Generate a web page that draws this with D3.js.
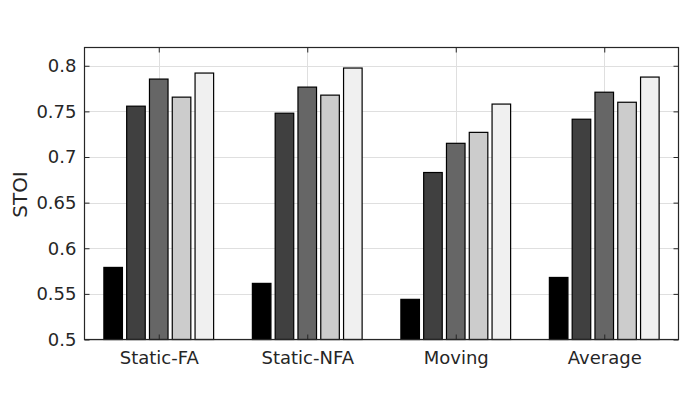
<!DOCTYPE html>
<html><head><meta charset="utf-8">
<script src="https://cdn.jsdelivr.net/npm/d3@7"></script>
<style>body{margin:0;background:#fff}svg{display:block}text{font-family:"DejaVu Sans",sans-serif;fill:#262626}</style>
</head><body>
<svg id="c" width="700" height="400"></svg>
<script>
const categories = ["Static-FA", "Static-NFA", "Moving", "Average"];
const series1 = [0.579, 0.5615, 0.544, 0.568];
const series2 = [0.7557, 0.748, 0.683, 0.7414];
const series3 = [0.7854, 0.7766, 0.715, 0.771];
const series4 = [0.7656, 0.7678, 0.727, 0.760];
const series5 = [0.792, 0.7975, 0.758, 0.7876];
const seriesColors = ["#000000", "#404040", "#666666", "#cccccc", "#f0f0f0"];
const yTicks = [0.5, 0.55, 0.6, 0.65, 0.7, 0.75, 0.8];
const yTickLabels = ["0.5", "0.55", "0.6", "0.65", "0.7", "0.75", "0.8"];
const allSeries = [series1, series2, series3, series4, series5];

const L = 84.5, R = 678.5, T = 47.5, B = 339.5;
const svg = d3.select("#c");
const x = d3.scaleLinear().domain([0.5, 4.5]).range([L, R]);
const y = d3.scaleLinear().domain([0.5, 0.82]).range([B, T]);

// grid
svg.append("g").selectAll("line").data(yTicks).join("line")
  .attr("x1", L).attr("x2", R).attr("y1", d => Math.round(y(d)) + 0.5).attr("y2", d => Math.round(y(d)) + 0.5)
  .attr("stroke", "#dfdfdf").attr("stroke-width", 1);
svg.append("g").selectAll("line").data(categories).join("line")
  .attr("x1", (d, i) => Math.round(x(i + 1)) + 0.5).attr("x2", (d, i) => Math.round(x(i + 1)) + 0.5)
  .attr("y1", T).attr("y2", B).attr("stroke", "#dfdfdf").attr("stroke-width", 1);

// bars
const step = 0.1535, bw = 0.125;
allSeries.forEach((s, k) => {
  svg.append("g").selectAll("rect").data(s).join("rect")
    .attr("x", (d, i) => x(i + 1 + (k - 2) * step - bw / 2))
    .attr("width", x(bw) - x(0))
    .attr("y", d => y(d))
    .attr("height", d => y(0.5) - y(d))
    .attr("fill", seriesColors[k]).attr("stroke", "#000").attr("stroke-width", 1.2);
});

// box
svg.append("rect").attr("x", L).attr("y", T).attr("width", R - L).attr("height", B - T)
  .attr("fill", "none").attr("stroke", "#262626").attr("stroke-width", 1.2);

// y axis ticks (left and right, inward)
const yAxisL = d3.axisLeft(y).tickValues(yTicks).tickFormat((d, i) => yTickLabels[i]).tickSizeInner(-5).tickSizeOuter(0).tickPadding(8);
const gl = svg.append("g").attr("transform", `translate(${L},0)`).call(yAxisL);
gl.select(".domain").remove();
gl.selectAll("line").attr("stroke", "#262626");
gl.selectAll("text").attr("font-size", 18).attr("fill", "#262626").attr("font-family", "DejaVu Sans");
const yAxisR = d3.axisRight(y).tickValues(yTicks).tickFormat("").tickSizeInner(-5).tickSizeOuter(0);
const gr = svg.append("g").attr("transform", `translate(${R},0)`).call(yAxisR);
gr.select(".domain").remove();
gr.selectAll("line").attr("stroke", "#262626");

// x axis
const xAxisB = d3.axisBottom(x).tickValues([1, 2, 3, 4]).tickFormat((d, i) => categories[i]).tickSizeInner(-5).tickSizeOuter(0).tickPadding(12);
const gb = svg.append("g").attr("transform", `translate(0,${B})`).call(xAxisB);
gb.select(".domain").remove();
gb.selectAll("line").attr("stroke", "#262626");
gb.selectAll("text").attr("font-size", 18).attr("fill", "#262626").attr("font-family", "DejaVu Sans");
const xAxisT = d3.axisTop(x).tickValues([1, 2, 3, 4]).tickFormat("").tickSizeInner(-5).tickSizeOuter(0);
const gt = svg.append("g").attr("transform", `translate(0,${T})`).call(xAxisT);
gt.select(".domain").remove();
gt.selectAll("line").attr("stroke", "#262626");

// y label
svg.append("text").attr("transform", `translate(27,${(T + B) / 2 + 1}) rotate(-90)`)
  .attr("text-anchor", "middle").attr("font-size", 20).text("STOI");
</script>
</body></html>
